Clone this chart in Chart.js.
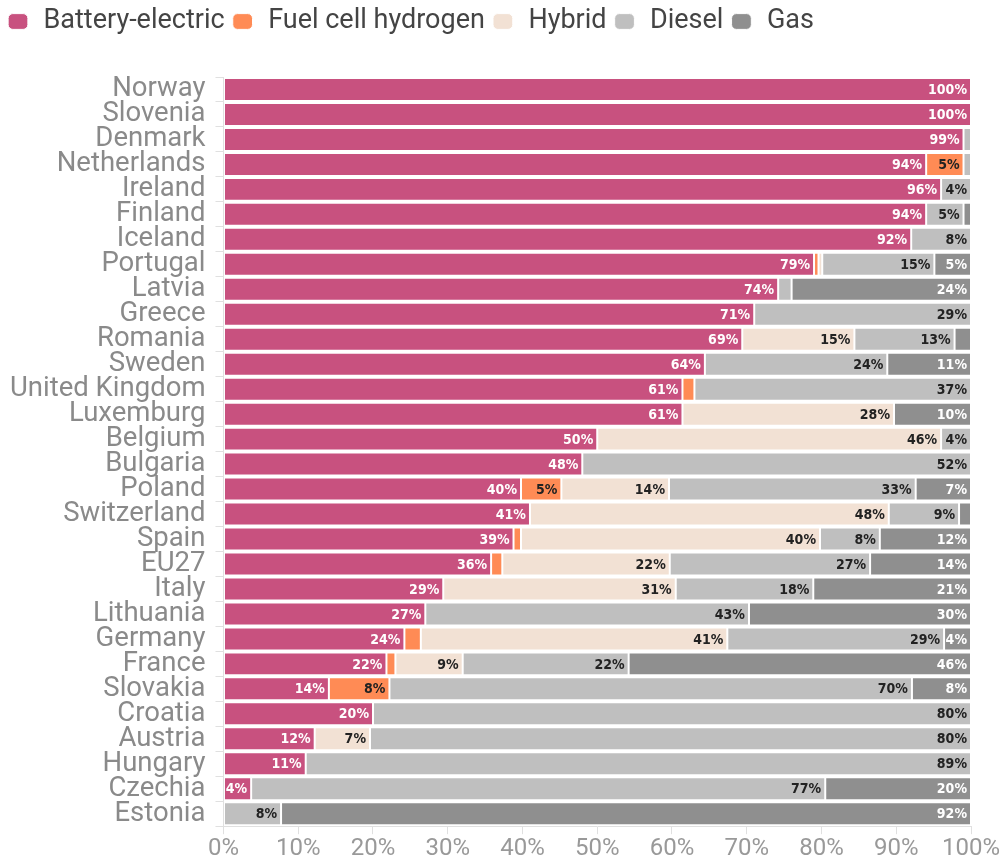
<!DOCTYPE html>
<html>
<head>
<meta charset="utf-8">
<script src="https://cdn.jsdelivr.net/npm/chart.js@4/dist/chart.umd.min.js"></script>
<style>
  html, body { margin: 0; padding: 0; background: #fff; }
  #wrap { width: 1005px; height: 863px; position: relative; }
</style>
</head>
<body>
<div id="wrap"><canvas id="fuelChart"></canvas></div>
<script>
// countries, top to bottom
const countries = ["Norway", "Slovenia", "Denmark", "Netherlands", "Ireland", "Finland", "Iceland",
  "Portugal", "Latvia", "Greece", "Romania", "Sweden", "United Kingdom", "Luxemburg", "Belgium",
  "Bulgaria", "Poland", "Switzerland", "Spain", "EU27", "Italy", "Lithuania", "Germany", "France",
  "Slovakia", "Croatia", "Austria", "Hungary", "Czechia", "Estonia"];

// share of each fuel type (%)
const batteryElectric = [100, 100, 99, 94, 96, 94, 92, 79, 74.2, 71, 69.4, 64.4, 61.4, 61.4, 50,
  48, 39.8, 41, 38.8, 35.8, 29.4, 27, 24.2, 21.8, 14.1, 20, 12.2, 11, 3.7, 0];
const fuelCell = [0, 0, 0, 5, 0, 0, 0, 0.6, 0, 0, 0, 0, 1.6, 0, 0,
  0, 5.4, 0, 1, 1.5, 0, 0, 2.2, 1.2, 8.1, 0, 0, 0, 0, 0];
const hybrid = [0, 0, 0, 0, 0, 0, 0, 0.5, 0, 0, 15, 0, 0, 28.3, 46,
  0, 14.4, 48, 40, 22.4, 31.1, 0, 41, 9, 0, 0, 7.4, 0, 0, 0];
const diesel = [0, 0, 1, 1, 4, 5, 8, 15, 1.8, 29, 13.4, 24.4, 37, 0, 4,
  52, 33, 9.4, 8, 26.8, 18.4, 43.3, 29, 22.2, 69.9, 80, 80.4, 89, 76.8, 7.7];
const gas = [0, 0, 0, 0, 0, 1, 0, 4.9, 24, 0, 2.2, 11.2, 0, 10.3, 0,
  0, 7.4, 1.6, 12.2, 13.5, 21.1, 29.7, 3.6, 45.8, 7.9, 0, 0, 0, 19.5, 92.3];

const seriesNames = ["Battery-electric", "Fuel cell hydrogen", "Hybrid", "Diesel", "Gas"];
const seriesColors = ["#c8517f", "#ff8b55", "#f2e1d4", "#bfbfbf", "#8f8f8f"];
const labelColors = ["#ffffff", "#222222", "#222222", "#222222", "#ffffff"];
const seriesData = [batteryElectric, fuelCell, hybrid, diesel, gas];

const datasets = [];
for (let i = 0; i < seriesNames.length; i++) {
  datasets.push({
    label: seriesNames[i],
    data: seriesData[i],
    backgroundColor: seriesColors[i],
    borderColor: "#ffffff",
    borderWidth: 1,
    borderSkipped: false,
    barPercentage: 0.92,
    categoryPercentage: 1,
  });
}

// draw the % labels at the right end of each segment
const segmentLabels = {
  id: "segmentLabels",
  afterDatasetsDraw(chart) {
    const ctx = chart.ctx;
    ctx.save();
    ctx.font = "bold 14px 'DejaVu Sans Condensed', 'Roboto', sans-serif";
    ctx.textAlign = "right";
    ctx.textBaseline = "middle";
    chart.data.datasets.forEach((ds, di) => {
      const meta = chart.getDatasetMeta(di);
      meta.data.forEach((bar, j) => {
        const v = ds.data[j];
        if (v < 3.5) return;
        ctx.fillStyle = labelColors[di];
        ctx.fillText(Math.round(v) + "%", bar.x - 4, bar.y + 1);
      });
    });
    ctx.restore();
  },
};

// extra room under the legend
const legendGap = {
  id: "legendGap",
  beforeInit(chart) {
    const fit = chart.legend.fit;
    chart.legend.fit = function () {
      fit.bind(chart.legend)();
      this.height += 32;
    };
  },
};

const ctx = document.getElementById("fuelChart");
new Chart(ctx, {
  type: "bar",
  data: { labels: countries, datasets: datasets },
  options: {
    indexAxis: "y",
    responsive: true,
    maintainAspectRatio: false,
    animation: false,
    layout: { padding: { left: 0, right: 34, top: 2, bottom: 0 } },
    scales: {
      x: {
        stacked: true,
        min: 0,
        max: 100,
        grid: { drawOnChartArea: false, tickLength: 8, color: "#e0e0e0" },
        border: { color: "#e0e0e0" },
        ticks: {
          stepSize: 10,
          color: "#999999",
          font: { family: "Roboto", size: 24 },
          padding: 0,
          callback: (v) => v + "%",
        },
      },
      y: {
        stacked: true,
        grid: { drawOnChartArea: false, tickLength: 8, color: "#e0e0e0" },
        border: { color: "#e0e0e0" },
        ticks: {
          color: "#8a8a8a",
          font: { family: "Roboto", size: 27.5 },
          padding: 10,
          autoSkip: false,
        },
      },
    },
    plugins: {
      legend: {
        position: "top",
        align: "start",
        labels: {
          usePointStyle: true,
          pointStyle: "rectRounded",
          pointStyleWidth: 24,
          boxHeight: 13,
          color: "#444444",
          font: { family: "Roboto", size: 27 },
          padding: 6,
        },
      },
      tooltip: { enabled: false },
    },
  },
  plugins: [segmentLabels, legendGap],
});
</script>
</body>
</html>
